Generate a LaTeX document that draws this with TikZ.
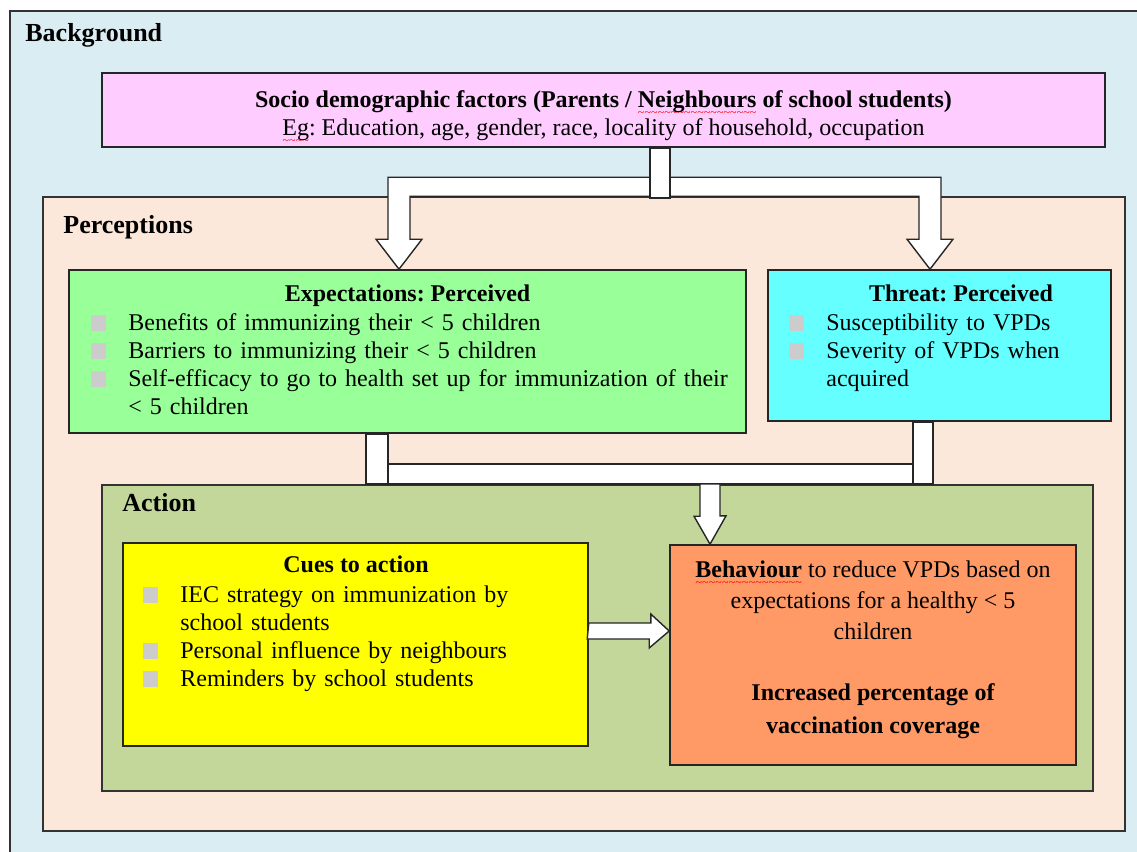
\documentclass[tikz,border=0pt]{standalone}
\usepackage{fontspec}
\setmainfont{Liberation Serif}
\usetikzlibrary{positioning,fit,calc}

\definecolor{bgblue}{HTML}{DAEDF3}
\definecolor{percpeach}{HTML}{FCE8DA}
\definecolor{sociopink}{HTML}{FFCCFF}
\definecolor{expgreen}{HTML}{99FF99}
\definecolor{threatcyan}{HTML}{66FFFF}
\definecolor{actolive}{HTML}{C4D79B}
\definecolor{cueyellow}{HTML}{FFFF00}
\definecolor{behorange}{HTML}{FF9966}

\tikzset{
panel/.style = {draw=black!80, line width=1.1pt, inner sep=0pt},% outer frames
box/.style = {draw=black!85, line width=0.8pt, inner sep=0pt},% coloured boxes
txt/.style = {inner sep=0pt, font=\fontsize{12}{14}\selectfont, align=center, anchor=north},
hdr/.style = {inner sep=0pt, font=\fontsize{12}{14}\selectfont\bfseries, anchor=base},% box headings
items/.style = {inner sep=0pt, font=\fontsize{12}{14}\selectfont\raggedright, text width=330pt, anchor=north west},
lbl/.style = {inner sep=0pt, font=\fontsize{13}{15}\selectfont\bfseries, anchor=base west},% frame titles
blk/.style = {draw=black!85, fill=white, line width=0.7pt, line join=miter}% block connectors
}

\newcommand{\spellwave}[1]{\setbox0=\hbox{#1}\rlap{\raisebox{-4.6pt}[0pt][0pt]{\textcolor{red}{\mdseries\fontsize{6}{6}\selectfont\xleaders\hbox{\char126}\hskip\wd0}}}#1}
\newcommand{\bul}{\textcolor{black!20}{\rule[-0.5pt]{7.5pt}{8pt}}}
\newcommand{\bitem}[1]{\hangindent=18.5pt\hangafter=1\noindent\strut\makebox[18.5pt][l]{\bul}#1\par}
\frenchspacing

\begin{document}
\begin{tikzpicture}[x=0.5pt, y=-0.5pt]
\useasboundingbox (0,0) rectangle (1137,852);
\clip (0,0) rectangle (1137,852);

% frames
\node[panel, fill=bgblue, fit={(10,11) (1170,890)}] (background) {};
\node[lbl] (backgroundlbl) at (25,41) {Background};
\node[panel, fill=percpeach, fit={(43,197) (1125,831)}] (perceptions) {};
\node[lbl] (perceptionslbl) at (63,233) {Perceptions};
\node[panel, fill=actolive, fit={(102,485) (1093,791)}] (action) {};
\node[lbl] (actionlbl) at (122,511) {Action};

% boxes
\node[box, fill=sociopink, fit={(102,73) (1105,147)}] (socio) {};
\node[txt] (sociotxt) at (603.5,87.4)
  {\strut\bfseries Socio demographic factors (Parents / \spellwave{Neighbours} of school students)\\
   \spellwave{Eg}: Education, age, gender, race, locality of household, occupation};

\node[box, fill=expgreen, fit={(69,270) (746,433)}] (expect) {};
\node[hdr] (expecthdr) at ($(expect.north)+(0,32)$) {Expectations: Perceived};
\node[items] (expectlist) at (91,310.4)
  {\bitem{Benefits of immunizing their < 5 children}
   \bitem{Barriers to immunizing their < 5 children}
   \bitem{Self-efficacy to go to health set up for immunization of their\newline < 5 children}};

\node[box, fill=threatcyan, fit={(768,270) (1111,421)}] (threat) {};
\node[hdr] (threathdr) at ($(threat.north)+(21.5,32)$) {Threat: Perceived};
\node[items, text width=170pt] (threatlist) at (789,310.4)
  {\bitem{Susceptibility to VPDs}
   \bitem{Severity of VPDs when\newline acquired}};

\node[box, fill=cueyellow, fit={(123,543) (588,746)}] (cues) {};
\node[hdr] (cueshdr) at ($(cues.north)+(0.5,30)$) {Cues to action};
\node[items, text width=215pt] (cueslist) at (143,582.4)
  {\bitem{IEC strategy on immunization by\newline school students}
   \bitem{Personal influence by neighbours}
   \bitem{Reminders by school students}};

\node[box, fill=behorange, fit={(670,545) (1076,765)}] (behav) {};
\node[txt, font=\fontsize{12}{15.5}\selectfont] (behavtxt) at (873,555.3)
  {\strut\textbf{\spellwave{Behaviour}} to reduce VPDs based on\\
   expectations for a healthy < 5\\ children};
\node[txt, font=\fontsize{12}{16.5}\selectfont\bfseries] (outcometxt) at (873,676.9)
  {\strut Increased percentage of\\ vaccination coverage};

% connectors
\coordinate (stem) at (660,0);
\coordinate (tipE) at (399,0);
\coordinate (joinL) at (377,0);
\coordinate (joinR) at (923,0);
\coordinate (dropx) at (710,0);
\coordinate (arry) at (0,631);

\draw[blk] (tipE |- expect.north) -- ++(-23,-30) -- ++(12,0) -- ++(0,-62) -- ++(553,0)
  -- ++(0,62) -- ++(12,0) -- (threat.north -| 930,0) -- ++(-23,-30) -- ++(12,0)
  -- ++(0,-43) -- ++(-509,0) -- ++(0,43) -- ++(12,0) -- cycle;
\draw[blk] ($(socio.south -| stem)+(-10,0)$) rectangle ++(20,50);

\draw[blk] ($(action.north -| joinL)+(11,-20)$) rectangle ($(action.north -| joinR)+(-10,0)$);
\draw[blk] ($(expect.south -| joinL)+(-11,0)$) rectangle ($(action.north -| joinL)+(11,0)$);
\draw[blk] ($(threat.south -| joinR)+(-10,0)$) rectangle ($(action.north -| joinR)+(10,0)$);

\draw[blk] ($(action.north -| dropx)+(-10,0)$) -- ++(20,0) -- ++(0,32) -- ++(6,0)
  -- (behav.north -| dropx) -- ++(-16,-28) -- ++(6,0) -- cycle;

\draw[blk] ($(cues.east |- arry)+(0,-8)$) -- ++(62,0) -- ++(0,-9) -- (behav.west |- arry)
  -- ++(-20,17) -- ++(0,-9) -- ++(-62,0) -- cycle;
\end{tikzpicture}
\end{document}
